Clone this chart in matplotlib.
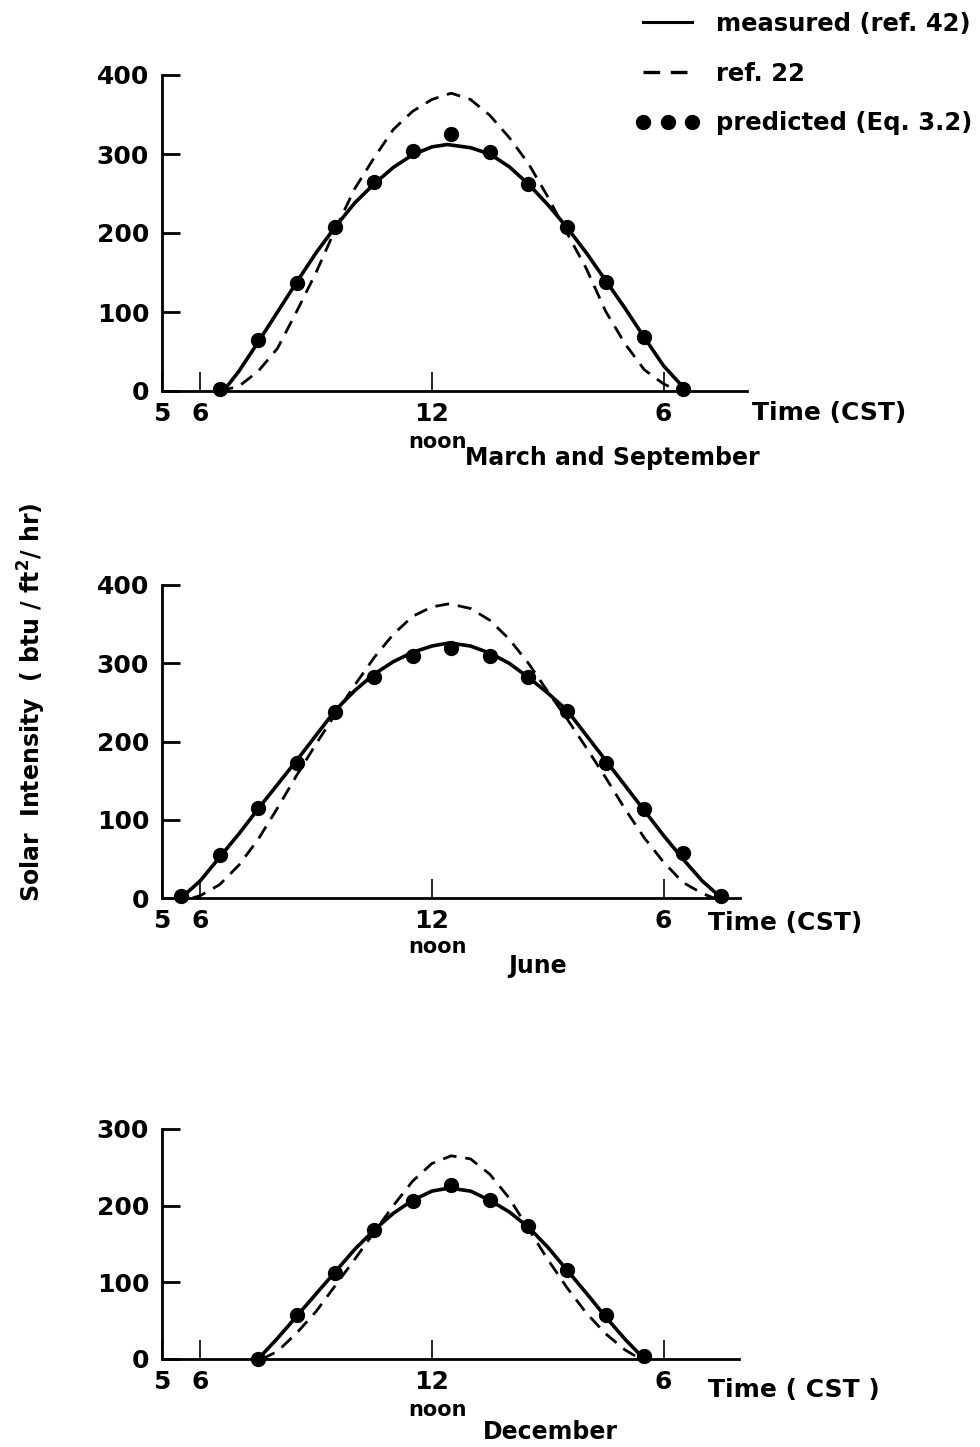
import matplotlib
matplotlib.use("Agg")
import matplotlib.pyplot as plt
from matplotlib.lines import Line2D

plt.rcParams["font.family"] = ["DejaVu Sans"]
plt.rcParams["font.weight"] = "bold"

# March and September
mar_pred_h = [6.5, 7.5, 8.5, 9.5, 10.5, 11.5, 12.5, 13.5, 14.5, 15.5, 16.5, 17.5, 18.5]
mar_pred = [3, 64, 137, 208, 264, 304, 325, 303, 262, 207, 138, 68, 3]
mar_meas_h = [6.6, 7.0, 7.5, 8.0, 8.5, 9.0, 9.5, 10.0, 10.5, 11.0, 11.5, 12.0, 12.4,
              13.0, 13.5, 14.0, 14.5, 15.0, 15.5, 16.0, 16.5, 17.0, 17.5, 18.0, 18.6]
mar_meas = [0, 25, 62, 100, 138, 175, 208, 238, 262, 283, 299, 309, 312,
            308, 300, 284, 262, 236, 207, 175, 140, 105, 68, 32, 0]
mar_ref_h = [6.5, 7.0, 7.5, 8.0, 8.5, 9.0, 9.5, 10.0, 10.5, 11.0, 11.5, 12.0, 12.5,
             13.0, 13.5, 14.0, 14.5, 15.0, 15.5, 16.0, 16.5, 17.0, 17.5, 18.0, 18.4]
mar_ref = [0, 6, 25, 54, 101, 150, 205, 256, 295, 331, 354, 369, 377,
           369, 349, 321, 288, 246, 200, 155, 101, 60, 27, 9, 0]

# June
jun_pred_h = [5.5, 6.5, 7.5, 8.5, 9.5, 10.5, 11.5, 12.5, 13.5, 14.5, 15.5, 16.5, 17.5, 18.5, 19.5]
jun_pred = [2, 55, 115, 172, 238, 283, 309, 319, 309, 283, 239, 172, 114, 58, 3]
jun_meas_h = [5.5, 6.0, 6.5, 7.0, 7.5, 8.0, 8.5, 9.0, 9.5, 10.0, 10.5, 11.0, 11.5, 12.0, 12.45,
              13.0, 13.5, 14.0, 14.5, 15.0, 15.5, 16.0, 16.5, 17.0, 17.5, 18.0, 18.5, 19.0, 19.5]
jun_meas = [0, 22, 52, 82, 114, 145, 176, 208, 240, 265, 286, 302, 314, 322, 326,
            322, 313, 300, 282, 262, 240, 208, 176, 144, 112, 80, 50, 22, 0]
jun_ref_h = [5.8, 6.0, 6.5, 7.0, 7.5, 8.0, 8.5, 9.0, 9.5, 10.0, 10.5, 11.0, 11.5, 12.0, 12.45,
             13.0, 13.5, 14.0, 14.5, 15.0, 15.5, 16.0, 16.5, 17.0, 17.5, 18.0, 18.5, 19.0, 19.3]
jun_ref = [0, 3, 17, 42, 75, 115, 157, 197, 235, 272, 307, 337, 360, 372, 376,
           370, 355, 331, 300, 264, 229, 192, 154, 114, 77, 46, 20, 6, 0]

# December
dec_pred_h = [7.5, 8.5, 9.5, 10.5, 11.5, 12.5, 13.5, 14.5, 15.5, 16.5, 17.5]
dec_pred = [0, 57, 112, 168, 206, 227, 207, 174, 116, 57, 4]
dec_meas_h = [7.5, 8.0, 8.5, 9.0, 9.5, 10.0, 10.5, 11.0, 11.5, 12.0, 12.45,
              13.0, 13.5, 14.0, 14.5, 15.0, 15.5, 16.0, 16.5, 17.0, 17.5]
dec_meas = [0, 27, 56, 85, 114, 143, 168, 190, 207, 219, 223,
            219, 207, 192, 172, 146, 116, 86, 55, 26, 0]
dec_ref_h = [7.6, 8.0, 8.5, 9.0, 9.5, 10.0, 10.5, 11.0, 11.5, 12.0, 12.5,
             13.0, 13.5, 14.0, 14.5, 15.0, 15.5, 16.0, 16.5, 17.0, 17.4]
dec_ref = [0, 10, 34, 62, 96, 130, 165, 200, 232, 255, 265,
           261, 241, 210, 170, 130, 93, 60, 33, 12, 0]

xtick_pos = [5, 6, 12, 18]
xtick_lab = ["5", "6", "12", "6"]

W, H = 980, 1447
fig = plt.figure(figsize=(W / 100, H / 100), dpi=100)


def fx(x):
    return x / W


def fy(y):
    return 1 - y / H


panels = [
    # axes box in px (left, bottom, right, top), then text placements
    dict(px=(161.7, 391, 747, 75), ylim=400, yt=[0, 100, 200, 300, 400],
         pred=(mar_pred_h, mar_pred), meas=(mar_meas_h, mar_meas), ref=(mar_ref_h, mar_ref),
         title="March and September", tpos=(612, 458), time="Time (CST)", timepos=(752, 413),
         noon=(437, 442)),
    dict(px=(161.7, 898, 740, 585), ylim=400, yt=[0, 100, 200, 300, 400],
         pred=(jun_pred_h, jun_pred), meas=(jun_meas_h, jun_meas), ref=(jun_ref_h, jun_ref),
         title="June", tpos=(538, 966), time="Time (CST)", timepos=(708, 923),
         noon=(437, 947)),
    dict(px=(161.7, 1359, 739, 1129), ylim=300, yt=[0, 100, 200, 300],
         pred=(dec_pred_h, dec_pred), meas=(dec_meas_h, dec_meas), ref=(dec_ref_h, dec_ref),
         title="December", tpos=(550, 1432), time="Time ( CST )", timepos=(708, 1390),
         noon=(437, 1410)),
]

px_per_hour = 38.6
fs = 17
dash = (0, (5, 3.2))

for p in panels:
    l, b, r, t = p["px"]
    ax = fig.add_axes([fx(l), fy(b), (r - l) / W, (b - t) / H])
    ax.set_xlim(5, 5 + (r - l) / px_per_hour)
    ax.set_ylim(0, p["ylim"])
    for s in ["top", "right"]:
        ax.spines[s].set_visible(False)
    for s in ["left", "bottom"]:
        ax.spines[s].set_linewidth(2.0)

    ax.plot(*p["meas"], color="black", lw=2.6, solid_capstyle="round", clip_on=False)
    ax.plot(*p["ref"], color="black", lw=2.0, linestyle=dash, clip_on=False)
    ax.plot(*p["pred"], linestyle="none", marker="o", ms=10, color="black", clip_on=False)

    ax.set_yticks(p["yt"])
    ax.set_yticklabels([str(v) for v in p["yt"]])
    ax.tick_params(axis="y", direction="in", length=13, width=2.0, pad=9, labelsize=18)
    ax.set_xticks(xtick_pos)
    ax.set_xticklabels(xtick_lab)
    ax.tick_params(axis="x", direction="in", length=14, width=1.2, pad=8, labelsize=18)

    fig.text(fx(p["timepos"][0]), fy(p["timepos"][1]), p["time"], fontsize=18,
             ha="left", va="center")
    fig.text(fx(p["noon"][0]), fy(p["noon"][1]), "noon", fontsize=15,
             ha="center", va="center")
    fig.text(fx(p["tpos"][0]), fy(p["tpos"][1]), p["title"], fontsize=fs,
             ha="center", va="center")

fig.text(fx(32), fy(702), "Solar  Intensity  ( btu / ft$^\\mathbf{2}$/ hr)", fontsize=fs,
         rotation=90, ha="center", va="center")

handles = [
    Line2D([], [], color="black", lw=2.2),
    Line2D([], [], color="black", lw=2.4, linestyle=dash),
    Line2D([], [], color="black", linestyle="none", marker="o", ms=10),
]
fig.legend(handles, ["measured (ref. 42)", "ref. 22", "predicted (Eq. 3.2)"],
           loc="upper left", bbox_to_anchor=(fx(636), fy(12)), frameon=False,
           fontsize=17.5, numpoints=3, handlelength=2.6, handletextpad=0.7,
           labelspacing=1.05, borderpad=0, borderaxespad=0)

fig.savefig("out.png", dpi=100)
